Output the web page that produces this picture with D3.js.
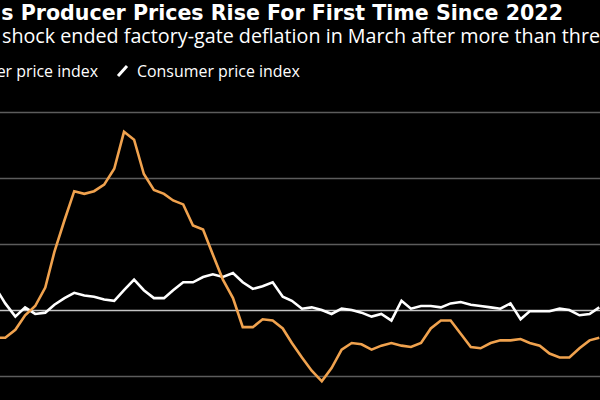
<!DOCTYPE html>
<html>
<head>
<meta charset="utf-8">
<script src="https://cdn.jsdelivr.net/npm/d3@7"></script>
<style>
  html, body { margin: 0; padding: 0; background: #000; overflow: hidden; }
  svg { display: block; }
</style>
</head>
<body>
<svg id="chart" width="600" height="400"></svg>
<script>
// Monthly, Sep 2020 .. Oct 2025 (year-over-year %)
const months = d3.timeMonths(new Date(2020, 8, 1), new Date(2025, 10, 1));
const ppi = [
  -2.1, -2.1, -1.5, -0.4,                                        // 2020 Sep-Dec
  0.3, 1.7, 4.4, 6.8, 9.0, 8.8, 9.0, 9.5, 10.7, 13.5, 12.9, 10.3, // 2021
  9.1, 8.8, 8.3, 8.0, 6.4, 6.1, 4.2, 2.3, 0.9, -1.3, -1.3, -0.7,  // 2022
  -0.8, -1.4, -2.5, -3.6, -4.6, -5.4, -4.4, -3.0, -2.5, -2.6, -3.0, -2.7, // 2023
  -2.5, -2.7, -2.8, -2.5, -1.4, -0.8, -0.8, -1.8, -2.8, -2.9, -2.5, -2.3, // 2024
  -2.3, -2.2, -2.5, -2.7, -3.3, -3.6, -3.6, -2.9, -2.3, -2.1      // 2025 Jan-Oct
];
const cpi = [
  1.7, 0.5, -0.5, 0.2,
  -0.3, -0.2, 0.4, 0.9, 1.3, 1.1, 1.0, 0.8, 0.7, 1.5, 2.3, 1.5,
  0.9, 0.9, 1.5, 2.1, 2.1, 2.5, 2.7, 2.5, 2.8, 2.1, 1.6, 1.8,
  2.1, 1.0, 0.7, 0.1, 0.2, 0.0, -0.3, 0.1, 0.0, -0.2, -0.5, -0.3,
  -0.8, 0.7, 0.1, 0.3, 0.3, 0.2, 0.5, 0.6, 0.4, 0.3, 0.2, 0.1,
  0.5, -0.7, -0.1, -0.1, -0.1, 0.1, 0.0, -0.4, -0.3, 0.2
];
const yTicks = [-5, 0, 5, 10, 15];
const seriesNames = ["Producer price index", "Consumer price index"];
const titleText = "China's Producer Prices Rise For First Time Since 2022";
const subtitleText = "shock ended factory-gate deflation in March after more than three years";

const W = 600, H = 400;
const svg = d3.select("#chart");
svg.append("rect").attr("width", W).attr("height", H).attr("fill", "#000");

const x = d3.scaleTime()
  .domain([months[0], months[months.length - 1]])
  .range([-4.5, 599.3]);
const y = d3.scaleLinear().domain([-5, 15]).range([376, 112]);

// gridlines
const yAxis = d3.axisRight(y).tickValues(yTicks).tickSize(W + 20).tickFormat("");
const gAxis = svg.append("g").attr("transform", "translate(-10,0)").call(yAxis);
gAxis.select(".domain").remove();
gAxis.selectAll(".tick line")
  .attr("stroke", d => d === 0 ? "#c4c4c4" : "#5c5c5c")
  .attr("stroke-width", 1.5);

const line = d3.line().x((d, i) => x(months[i])).y(d => y(d));

svg.append("path").datum(cpi)
  .attr("d", line).attr("fill", "none")
  .attr("stroke", "#ffffff").attr("stroke-width", 2.6)
  .attr("stroke-linejoin", "miter");
svg.append("path").datum(ppi)
  .attr("d", line).attr("fill", "none")
  .attr("stroke", "#f0a24e").attr("stroke-width", 2.6)
  .attr("stroke-linejoin", "miter");

// helper to measure text
function measure(str, size, weight, family) {
  const t = svg.append("text").attr("font-family", family).attr("font-size", size)
    .attr("font-weight", weight).text(str);
  const w = t.node().getComputedTextLength();
  t.remove();
  return w;
}

// Title
const tFam = "'DejaVu Sans', sans-serif";
const visTitle = "s Producer Prices Rise For First Time Since 2022";
let tSize = 20 * 562 / measure(visTitle, 20, 700, tFam);
svg.append("text").attr("x", 563).attr("y", 20)
  .attr("text-anchor", "end")
  .attr("font-family", tFam).attr("font-weight", 700)
  .attr("font-size", tSize).attr("fill", "#fff")
  .text(titleText);

// Subtitle
const sFam = "'Open Sans', sans-serif";
let sSize = 18 * 555 / measure("shock ended factory-gate deflation in March after more than", 18, 400, sFam);
svg.append("text").attr("x", 2).attr("y", 43)
  .attr("font-family", sFam).attr("font-size", sSize).attr("fill", "#fff")
  .text(subtitleText);

// Legend
let lSize = 16 * 163 / measure(seriesNames[1], 16, 400, sFam);
const legY = 77;
svg.append("text").attr("x", 98).attr("y", legY).attr("text-anchor", "end")
  .attr("font-family", sFam).attr("font-size", lSize).attr("fill", "#fff")
  .text(seriesNames[0]);
svg.append("line")
  .attr("x1", 118).attr("y1", 76).attr("x2", 127).attr("y2", 66)
  .attr("stroke", "#fff").attr("stroke-width", 3);
svg.append("text").attr("x", 137).attr("y", legY)
  .attr("font-family", sFam).attr("font-size", lSize).attr("fill", "#fff")
  .text(seriesNames[1]);
</script>
</body>
</html>
